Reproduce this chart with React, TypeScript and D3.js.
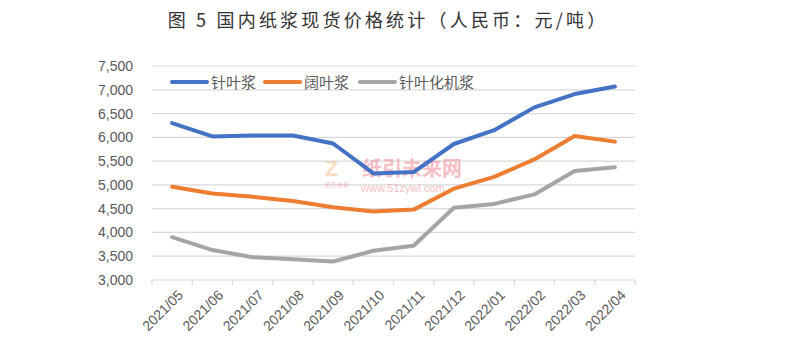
import React from "react";
import * as d3 from "d3";

const categories = ["2021/05","2021/06","2021/07","2021/08","2021/09","2021/10","2021/11","2021/12","2022/01","2022/02","2022/03","2022/04"];
const softwood = [6300,6020,6040,6040,5870,5240,5270,5860,6150,6630,6910,7070];
const hardwood = [4960,4820,4750,4660,4530,4440,4480,4920,5170,5535,6030,5910];
const chemiMech = [3900,3630,3480,3435,3390,3615,3720,4520,4600,4800,5290,5370];
const seriesNames = ["针叶浆","阔叶浆","针叶化机浆"];
const seriesColors = ["#4472C4","#ED7D31","#A5A5A5"];
const yTicks = [3000,3500,4000,4500,5000,5500,6000,6500,7000,7500];

export default function App() {
  const W = 792, H = 357;
  const left = 152, right = 635, top = 66, bottom = 280;
  const x = d3.scaleBand<string>().domain(categories).range([left, right]);
  const y = d3.scaleLinear().domain([3000, 7500]).range([bottom, top]);
  const fmt = d3.format(",");
  const font = "'Liberation Sans', Arial, sans-serif";
  const cjk = "'Noto Sans CJK SC', sans-serif";
  const series = [softwood, hardwood, chemiMech];
  const line = d3.line<number>()
    .x((_, i) => (x(categories[i]) as number) + x.bandwidth() / 2)
    .y(d => y(d));
  const legendX = [172, 265, 360];
  return (
    <svg width={W} height={H} style={{ position: "absolute", left: 0, top: 0, background: "#fff" }}>
      <text x={388} y={27} textAnchor="middle" fontFamily={cjk} fontSize={18} letterSpacing={3.2} fill="#333">图 5 国内纸浆现货价格统计（人民币：元/吨）</text>
      {yTicks.map(t => (
        <g key={t}>
          <line x1={left} x2={right} y1={y(t)} y2={y(t)} stroke="#d9d9d9" strokeWidth={1.2} />
          <text x={133} y={y(t) + 5} textAnchor="end" fontFamily={font} fontSize={14} fill="#595959">{fmt(t)}</text>
        </g>
      ))}
      {d3.range(categories.length + 1).map(i => {
        const xx = left + i * x.step();
        return <line key={i} x1={xx} x2={xx} y1={bottom} y2={bottom + 5} stroke="#d9d9d9" strokeWidth={1.2} />;
      })}
      {categories.map(c => {
        const cx = (x(c) as number) + x.bandwidth() / 2 + 5;
        const cy = bottom + 9;
        return (
          <text key={c} x={cx} y={cy} textAnchor="end" fontFamily={font} fontSize={14} fill="#595959"
            transform={`rotate(-45 ${cx} ${cy})`} dy="0.7em">{c}</text>
        );
      })}
      <g opacity={0.55}>
        <text x={362} y={176} fontFamily={cjk} fontWeight="bold" fontSize={20} fill="#f08a96">纸引未来网</text>
        <text x={361} y={192} fontFamily={font} fontSize={11} fill="#f08a96">www.51zywl.com</text>
        <text x={325} y={176} fontFamily={font} fontWeight="bold" fontSize={22} fill="#f6c08a">Z</text>
        <text x={325} y={187} fontFamily={cjk} fontSize={6} fill="#f08a96">纸引未来</text>
      </g>
      {series.map((s, k) => (
        <path key={k} d={line(s) || ""} fill="none" stroke={seriesColors[k]} strokeWidth={4} strokeLinejoin="round" strokeLinecap="round" />
      ))}
      {seriesNames.map((n, k) => (
        <g key={n}>
          <line x1={legendX[k]} x2={legendX[k] + 35} y1={82} y2={82} stroke={seriesColors[k]} strokeWidth={4} strokeLinecap="round" />
          <text x={legendX[k] + 39} y={87.5} fontFamily={cjk} fontSize={15} fill="#595959">{n}</text>
        </g>
      ))}
    </svg>
  );
}
